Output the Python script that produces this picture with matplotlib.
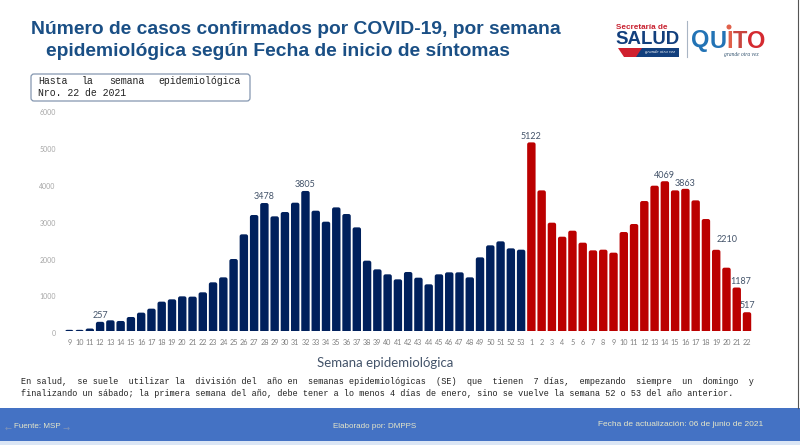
import matplotlib
matplotlib.use('Agg')
import matplotlib.pyplot as plt
from matplotlib.patches import FancyBboxPatch, Rectangle, Polygon, Circle
from matplotlib.transforms import ScaledTranslation

# weeks 9-53 of 2020, then 1-22 of 2021
weeks_2020 = list(range(9, 54))
weeks_2021 = list(range(1, 23))
cases_2020 = [40, 40, 75, 257, 298, 280, 388, 506, 614, 804, 867, 948, 940, 1057, 1328,
              1463, 1960, 2629, 3153, 3478, 3117, 3234, 3487, 3805, 3270, 2972, 3360,
              3180, 2818, 1915, 1680, 1545, 1409, 1608, 1454, 1274, 1545, 1599, 1599,
              1463, 2005, 2331, 2439, 2249, 2213]
cases_2021 = [5122, 3821, 2945, 2565, 2728, 2403, 2195, 2213, 2132, 2692, 2909, 3532,
              3948, 4069, 3821, 3863, 3550, 3044, 2210, 1725, 1187, 517]
y_ticks = [0, 1000, 2000, 3000, 4000, 5000, 6000]

# position in the full sequence : label offset in px
labeled = {3: (0, 2), 19: (0, 2), 23: (0, 2), 45: (0, 1), 58: (0, 1), 60: (0, 1),
           63: (11, 6), 65: (4, 2), 66: (0, 2)}

W, H = 800, 445
NAVY = '#00205c'
RED = '#bb0000'

fig = plt.figure(figsize=(W / 100, H / 100), dpi=100, facecolor='white')

# chart axes, placed in pixels
left, right, top, bottom = 60, 760, 110, 331.3
ax = fig.add_axes([left / W, 1 - bottom / H, (right - left) / W, (bottom - top) / H])
step = (747 - 69.3) / 66
ax.set_xlim(-(69.3 - left) / step, (right - 69.3) / step)
ax.set_ylim(0, 6000)
for s in ax.spines.values():
    s.set_visible(False)

values = cases_2020 + cases_2021
colors = [NAVY] * len(cases_2020) + [RED] * len(cases_2021)
labels = weeks_2020 + weeks_2021
aspect = 1000 / 36.9 * step  # data y units per x unit on screen
bar_w = 0.82
for i, v in enumerate(values):
    p = FancyBboxPatch((i - bar_w / 2, -100), bar_w, v + 100,
                       boxstyle='round,pad=0,rounding_size=0.2',
                       mutation_aspect=aspect, fc=colors[i], ec='none', clip_on=True)
    ax.add_patch(p)

for i, (dx, dy) in labeled.items():
    ax.annotate(str(values[i]), xy=(i, values[i]), xytext=(dx * 0.72, dy * 0.72),
                textcoords='offset points', ha='center', va='bottom',
                fontsize=6.5, color='#44546a', family='Lato')

ax.set_xticks(range(len(labels)))
ax.set_xticklabels([str(w) for w in labels], fontsize=5.2, color='#7f7f7f', family='Lato')
ax.set_yticks(y_ticks)
ax.set_yticklabels([str(t) for t in y_ticks], fontsize=5, color='#a6a6a6', family='Lato')
ax.tick_params(length=0)
ax.tick_params(axis='x', pad=5.5)
ax.tick_params(axis='y', pad=3)
shift = ScaledTranslation(0, -2 / 100, fig.dpi_scale_trans)
for lab in ax.get_yticklabels():
    lab.set_transform(lab.get_transform() + shift)

# page overlay in pixel coordinates
pg = fig.add_axes([0, 0, 1, 1], zorder=5)
pg.set_xlim(0, W)
pg.set_ylim(H, 0)
pg.axis('off')

TITLE = '#1a4f85'
pg.text(31, 30, 'Número de casos confirmados por COVID-19, por semana', fontsize=13.9,
        fontweight='bold', color=TITLE, family='Liberation Sans', va='center')
pg.text(46, 52, 'epidemiológica según Fecha de inicio de síntomas', fontsize=13.9,
        fontweight='bold', color=TITLE, family='Liberation Sans', va='center')

pg.add_patch(FancyBboxPatch((31, 74), 219, 27, boxstyle='round,pad=0,rounding_size=3',
                            fc='white', ec='#8497b0', lw=0.9))
# justified line, word by word
for word, x in [('Hasta', 38), ('la', 82), ('semana', 109), ('epidemiológica', 158)]:
    pg.text(x, 81, word, fontsize=7.1, color='#222222', family='Liberation Mono', va='center')
pg.text(38, 92.5, 'Nro. 22 de 2021', fontsize=7.1, color='#222222',
        family='Liberation Mono', va='center')

pg.text(385, 363, 'Semana epidemiológica', fontsize=9.5, color='#44546a',
        family='Lato', ha='center', va='center')

pg.text(21, 382, 'En salud,  se suele  utilizar la  división del  año en  semanas epidemiológicas  (SE)  que  tienen  7 días,  empezando  siempre  un  domingo  y',
        fontsize=6.15, color='#222222', family='Liberation Mono', va='center')
pg.text(21, 393, 'finalizando un sábado; la primera semana del año, debe tener a lo menos 4 días de enero, sino se vuelve la semana 52 o 53 del año anterior.',
        fontsize=6.15, color='#222222', family='Liberation Mono', va='center')

# footer band
pg.add_patch(Rectangle((0, 408), W, 33, fc='#4472c4', ec='none'))
pg.add_patch(Rectangle((0, 441), W, 4, fc='#dbe6f5', ec='none'))
pg.plot([797.5, 797.5], [0, 408], color='#555555', lw=0.8)
FOOT = '#e6e6c8'
pg.text(14, 426, 'Fuente: MSP', fontsize=5.8, color=FOOT, family='Liberation Sans', va='center')
pg.text(333, 426, 'Elaborado por: DMPPS', fontsize=5.8, color=FOOT, family='Liberation Sans', va='center')
pg.text(598, 424, 'Fecha de actualización: 06 de junio de 2021', fontsize=6, color=FOOT,
        family='Liberation Sans', va='center')
pg.text(8, 428, '←', fontsize=6, color='#7f93b8', ha='center', va='center', family='DejaVu Sans')
pg.text(66, 428, '→', fontsize=6, color='#7f93b8', ha='center', va='center', family='DejaVu Sans')

# logos
pg.text(616, 29, 'Secretaría de', fontsize=5.9, fontweight='bold', color='#c8202f',
        family='Liberation Sans', va='baseline')
pg.text(615.5, 44, 'SALUD', fontsize=13.4, fontweight='bold', color='#123f7d',
        family='Liberation Sans', va='baseline')
pg.add_patch(Rectangle((632, 48), 47, 9, fc='#123f7d', ec='none'))
pg.add_patch(Polygon([(618, 48), (642, 48), (636, 57), (624, 57)], fc='#d0202e', ec='none'))
pg.text(660, 52.5, 'grande otra vez', fontsize=3.4, style='italic', color='white',
        family='Liberation Serif', ha='center', va='center')
pg.plot([686.5, 686.5], [21, 57], color='#a9b5c4', lw=0.8)
for letter, x, col in [('Q', 691, '#2273b5'), ('U', 709.5, '#2273b5'), ('I', 726.5, '#e0604a'),
                       ('T', 733, '#c8453f'), ('O', 747.5, '#d42a30')]:
    pg.text(x, 47.5, letter, fontsize=17, fontweight='bold', color=col,
            family='Liberation Sans', va='baseline')
pg.add_patch(Circle((729, 27), 2.5, fc='#e0604a', ec='none'))
pg.text(741, 54.5, 'grande otra vez', fontsize=4, style='italic', color='#33536f',
        family='Liberation Serif', ha='center', va='center')

fig.savefig('out.png', dpi=100)
